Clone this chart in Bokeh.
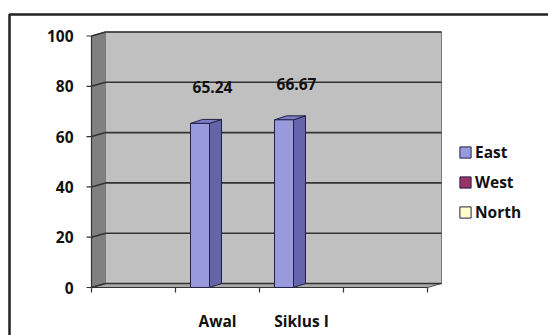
from bokeh.plotting import figure
from bokeh.models import Range1d, ColumnDataSource, Legend, LegendItem
from bokeh.core.properties import value
from bokeh.embed import file_html
from bokeh.resources import INLINE

# ---- data ----
categories = ["", "Awal", "Siklus I", ""]
east = [None, 65.24, 66.67, None]
west = [None, None, None, None]
north = [None, None, None, None]
y_ticks = [0, 20, 40, 60, 80, 100]
series_names = ["East", "West", "North"]
series_colors = ["#9999dd", "#993366", "#ffffcc"]

# ---- geometry (pixels) ----
W, H = 548, 335
AX_LEFT = 91    # px of slot 0
SLOT = 84       # px per category slot
Y0 = 287        # px from top of value 0
PPU = 2.515     # px per value unit


def sx(px):
    return (px - AX_LEFT) / SLOT


def vy(py):
    return (Y0 - py) / PPU


FONT_NAME = "Open Sans"
FONT = value(FONT_NAME)
FS = "15.5px"
n = len(categories)
vmax = y_ticks[-1]
DXW, DYW = 14 / SLOT, 4 / PPU      # wall depth
OFF, BW = 15 / SLOT, 19 / SLOT     # bar offset/width in slot
DXB, DYB = 12 / SLOT, 4 / PPU      # bar depth
NAN = float("nan")

p = figure(width=W, height=H,
           x_range=Range1d(sx(0), sx(W)), y_range=Range1d(vy(H), vy(0)),
           x_axis_type=None, y_axis_type=None,
           toolbar_location=None, output_backend="svg", min_border=0,
           outline_line_color=None, background_fill_color="white",
           border_fill_color="white")

# outer chart border
p.line(x=[sx(9), sx(9), sx(570)], y=[vy(360), vy(14), vy(14)],
       line_color="#222222", line_width=2.5)

# walls and floor
p.patch([0, DXW, DXW, 0], [0, DYW, vmax + DYW, vmax],
        fill_color="#808080", line_color="#666666", line_width=1)
p.quad(left=[DXW], right=[n + DXW], bottom=[DYW], top=[vmax + DYW],
       fill_color="#c0c0c0", line_color="#7a7a7a", line_width=1)
p.patch([0, n, n + DXW, DXW], [0, 0, DYW, DYW],
        fill_color="#a8a8a8", line_color="#555555", line_width=1)

# gridlines (back wall + side wall diagonal)
gx = [[0, DXW, n + DXW] for t in y_ticks]
gy = [[t, t + DYW, t + DYW] for t in y_ticks]
p.multi_line(gx, gy, line_color="#333333", line_width=1.6)

# axes lines and ticks
p.line(x=[0, 0], y=[0, vmax], line_color="#333333", line_width=1.2)
p.line(x=[0, n], y=[0, 0], line_color="#333333", line_width=1.2)
p.segment(x0=[sx(AX_LEFT - 5)] * len(y_ticks), y0=y_ticks,
          x1=[0] * len(y_ticks), y1=y_ticks, line_color="#333333", line_width=1.2)
p.segment(x0=list(range(n + 1)), y0=[0] * (n + 1),
          x1=list(range(n + 1)), y1=[vy(Y0 + 5)] * (n + 1),
          line_color="#333333", line_width=1.2)

# tick labels
p.text(x=[sx(73)] * len(y_ticks), y=y_ticks, text=[str(t) for t in y_ticks],
       text_align="right", text_baseline="middle", text_font=FONT,
       text_font_style="bold", text_font_size=FS, text_color="#111111")
cx = [k + 0.5 for k, c in enumerate(categories) if c]
ct = [c for c in categories if c]
p.text(x=cx, y=[vy(320)] * len(ct), text=ct, text_align="center",
       text_baseline="middle", text_font=FONT, text_font_style="bold",
       text_font_size=FS, text_color="#111111")


def bars(vals, color, side, top):
    ks = [k for k, v in enumerate(vals) if v is not None]
    vs = [vals[k] for k in ks]
    left = [k + OFF for k in range(len(vals))]
    right = [k + OFF + BW for k in range(len(vals))]
    tops = [NAN if v is None else v for v in vals]
    src = ColumnDataSource(dict(left=left, right=right, top=tops,
                                bottom=[0] * len(vals)))
    rk = [k + OFF + BW for k in ks]
    lk = [k + OFF for k in ks]
    if vs:
        p.patches([[r, r + DXB, r + DXB, r] for r in rk],
                  [[0, DYB, v + DYB, v] for v in vs],
                  fill_color=side, line_color="#222244", line_width=1)
        p.patches([[l, r, r + DXB, l + DXB] for l, r in zip(lk, rk)],
                  [[v, v, v + DYB, v + DYB] for v in vs],
                  fill_color=top, line_color="#222244", line_width=1)
    r = p.quad(left="left", right="right", top="top", bottom="bottom", source=src,
               fill_color=color, line_color="#222244", line_width=1)
    return r, ks, vs


r_e, ks, vs = bars(east, series_colors[0], "#6464aa", "#7c7cc4")
r_w, _, _ = bars(west, series_colors[1], "#6b2247", "#7d2950")
r_n, _, _ = bars(north, series_colors[2], "#cccc99", "#e0e0b0")

# data labels
p.text(x=[k + 0.44 for k in ks], y=[v + 14.3 for v in vs],
       text=[f"{v:.2f}" for v in vs], text_align="center", text_baseline="middle",
       text_font=FONT, text_font_style="bold", text_font_size=FS,
       text_color="#111111")

legend = Legend(items=[LegendItem(label=nm, renderers=[r])
                       for nm, r in zip(series_names, [r_e, r_w, r_n])],
                location=(458, 112), orientation="vertical",
                background_fill_alpha=0, border_line_color=None,
                padding=0, margin=0, spacing=8, glyph_width=14, glyph_height=14,
                label_height=22, label_standoff=3,
                label_text_font=FONT_NAME, label_text_font_style="bold",
                label_text_font_size=FS, label_text_color="#111111")
p.add_layout(legend)

open("out.html", "w").write(file_html(p, INLINE))
